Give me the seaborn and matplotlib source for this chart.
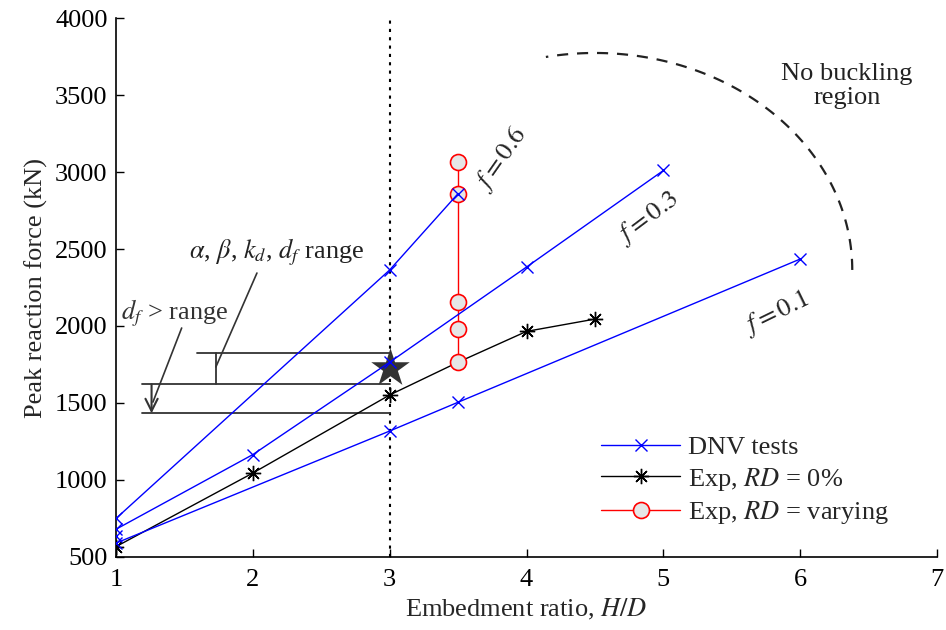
import numpy as np
import matplotlib
matplotlib.use("Agg")
import matplotlib.pyplot as plt
import seaborn as sns
from matplotlib.lines import Line2D

# -----------------------------
# data
# -----------------------------
# DNV tests, one line per friction factor f
h_d_f06 = [1, 3, 3.5]
force_f06 = [750, 2364, 2860]
h_d_f03 = [1, 2, 3, 4, 5]
force_f03 = [680, 1165, 1765, 2383, 3010]
h_d_f01 = [1, 3, 3.5, 6]
force_f01 = [590, 1318, 1505, 2435]
h_d_dnv_extra = [1]
force_dnv_extra = [636]

# experiments
h_d_exp0 = [1, 2, 3, 3.5, 4, 4.5]
force_exp0 = [567, 1045, 1552, 1765, 1965, 2045]
h_d_exp_var = [3.5, 3.5, 3.5, 3.5, 3.5]
force_exp_var = [3065, 2860, 2155, 1980, 1765]

star_h_d = [3]
star_force = [1730]

# parameter range bars at H/D = 3
range_levels = [1827, 1621, 1433]
range_starts = [1.59, 1.19, 1.19]

x_ticks = [1, 2, 3, 4, 5, 6, 7]
y_ticks = [500, 1000, 1500, 2000, 2500, 3000, 3500, 4000]

# -----------------------------
# style
# -----------------------------
sns.set_style("ticks")
plt.rcParams['font.family'] = ['Liberation Serif', 'DejaVu Serif']
plt.rcParams['mathtext.fontset'] = 'stix'
FS = 19

fig = plt.figure(figsize=(9.46, 6.3), dpi=100)
ax = fig.add_axes([0.1226, 0.1159, 0.868, 0.8555])

blue = '#0000ff'
red = '#ff0000'
dark = '#333333'

# vertical dotted line at H/D = 3
ax.axvline(3, color='black', ls=(0, (1.5, 2.5)), lw=1.5, zorder=1)

# range bars
for lvl, x0 in zip(range_levels, range_starts):
    ax.plot([x0, 3], [lvl, lvl], color=dark, lw=1.3, zorder=2)
ax.plot([1.73, 1.73], [range_levels[1], range_levels[0]], color=dark, lw=1.3, zorder=2)
ax.annotate("", xy=(1.26, range_levels[2]), xytext=(1.26, range_levels[1]),
            arrowprops=dict(arrowstyle='->', color=dark, lw=1.5,
                            mutation_scale=22, shrinkA=0, shrinkB=0))

# experiments, RD = 0 %
sns.lineplot(x=h_d_exp0, y=force_exp0, ax=ax, color='black', lw=1.0,
             marker=(8, 2, 0), markersize=11, markeredgewidth=1.0,
             markeredgecolor='black', estimator=None, sort=False, zorder=3)

# reference star
sns.scatterplot(x=star_h_d, y=star_force, ax=ax, marker='*', s=850,
                color=dark, linewidth=0, zorder=4)

# experiments, RD varying
sns.lineplot(x=h_d_exp_var, y=force_exp_var, ax=ax, color=red, lw=1.0,
             marker='o', markersize=11.5, markerfacecolor='#e6e6e6',
             markeredgecolor=red, markeredgewidth=1.2,
             estimator=None, sort=False, zorder=5)

# DNV lines
for xs, ys in [(h_d_f06, force_f06), (h_d_f03, force_f03), (h_d_f01, force_f01)]:
    sns.lineplot(x=xs, y=ys, ax=ax, color=blue, lw=1.0, marker='x',
                 markersize=9, markeredgewidth=1.0, markeredgecolor=blue,
                 estimator=None, sort=False, zorder=6)
ax.plot(h_d_dnv_extra, force_dnv_extra, ls='', marker='x', ms=9, mew=1.0,
        color=blue, zorder=6)

# no-buckling boundary (quarter ellipse)
t = np.radians(np.linspace(0, 101, 100))
ax.plot(4.5 + 1.88 * np.cos(t), 2364 + 1409 * np.sin(t), color='#222222',
        ls=(0, (5, 4)), lw=1.6, zorder=2)

# text labels
ax.text(3.82, 3084, r"$f = 0.6$", fontsize=FS, rotation=55, ha='center', va='center')
ax.text(4.89, 2700, r"$f = 0.3$", fontsize=FS, rotation=37, ha='center', va='center')
ax.text(5.83, 2085, r"$f = 0.1$", fontsize=FS, rotation=26, ha='center', va='center')
ax.text(6.34, 3558, "No buckling\nregion", fontsize=FS, ha='center', va='center',
        color='#222222', linespacing=1.15)
ax.text(2.175, 2481, r"$\alpha$, $\beta$, $k_d$, $d_f$ range", fontsize=FS,
        ha='center', va='center', color='#222222')
ax.text(1.43, 2084, r"$d_f$ > range", fontsize=FS, ha='center', va='center',
        color='#333333')
ax.plot([2.03, 1.73], [2344, 1734], color=dark, lw=1.2, zorder=2)
ax.plot([1.48, 1.27], [1987, 1506], color=dark, lw=1.2, zorder=2)

# axes
ax.set_xlim(1, 7)
ax.set_ylim(500, 4000)
ax.set_xticks(x_ticks)
ax.set_yticks(y_ticks)
ax.tick_params(labelsize=FS, length=6, width=1.0, colors='black', direction='in')
ax.tick_params(axis='x', pad=9)
ax.tick_params(axis='y', pad=6)
ax.set_xlabel(r"Embedment ratio, $H/D$", fontsize=FS, labelpad=4)
ax.set_ylabel("Peak reaction force (kN)", fontsize=FS, labelpad=5)
sns.despine(ax=ax)
for s in ['left', 'bottom']:
    ax.spines[s].set_linewidth(1.2)
    ax.spines[s].set_color('black')

handles = [
    Line2D([], [], color=blue, lw=1.0, marker='x', ms=9, mew=1.0),
    Line2D([], [], color='black', lw=1.0, marker=(8, 2, 0), ms=11, mew=1.0),
    Line2D([], [], color=red, lw=1.0, marker='o', ms=11.5, mfc='#e6e6e6', mec=red, mew=1.2),
]
labels = ["DNV tests", r"Exp, $RD$ = 0%", r"Exp, $RD$ = varying"]
ax.legend(handles, labels, loc='center left', bbox_to_anchor=(0.562, 0.141),
          frameon=False, fontsize=FS, handlelength=3, handletextpad=0.3,
          labelspacing=0.25, borderpad=0.4)

fig.savefig("out.png", dpi=100)
